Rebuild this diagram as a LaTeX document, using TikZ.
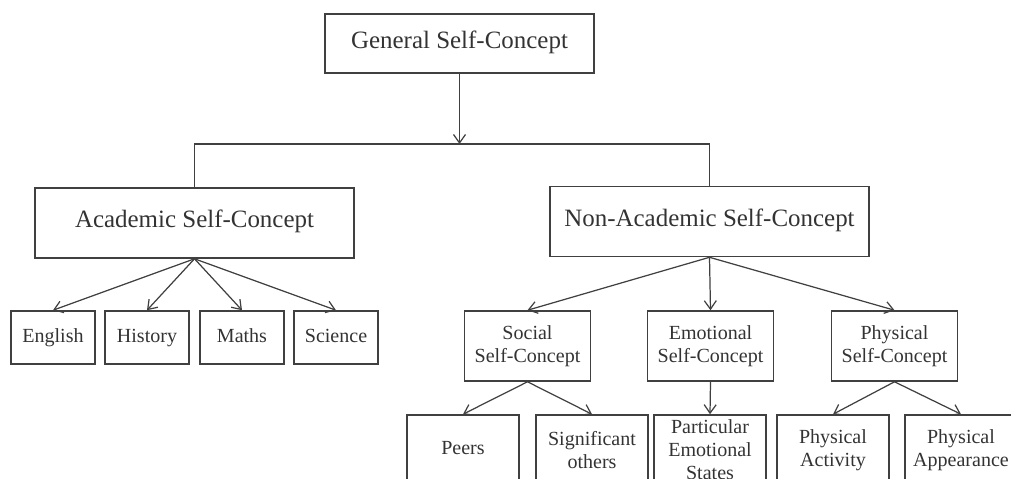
\documentclass[tikz,border=0pt]{standalone}
\usepackage{fontspec}
\setmainfont{Liberation Serif}
\usepackage{tikz}
\usetikzlibrary{arrows.meta,positioning}

\begin{document}
\begin{tikzpicture}[x=0.02cm,y=-0.02cm,
  every node/.style={text=black!80,line width=0.9pt,draw=black!75,inner sep=0pt,align=center},
  oneline/.style={text height=1.5ex,text depth=0.3ex},
  genbox/.style={draw,oneline,minimum width=5.38cm,minimum height=1.18cm,font=\fontsize{14.2}{16}\selectfont},
  bigbox/.style={draw,oneline,minimum width=6.38cm,minimum height=1.4cm,font=\fontsize{14.2}{16}\selectfont},
  subjbox/.style={draw,oneline,minimum width=1.68cm,minimum height=1.06cm,font=\fontsize{11.4}{13.1}\selectfont},
  aspbox/.style={draw,minimum width=2.52cm,minimum height=1.4cm,font=\fontsize{11.4}{13.1}\selectfont},
  leafbox/.style={draw,minimum width=2.24cm,minimum height=1.4cm,font=\fontsize{11.4}{13.1}\selectfont},
  arr/.style={draw=black!75,line width=0.7pt,-{Straight Barb[length=1.7mm,width=2.4mm]}}]
  \clip (0,0) rectangle (1011,478);

  % top level
  \node[genbox] (gen) at (459.5,43.5) {General Self-Concept};
  \node[bigbox] (acad) at (194.5,223) {Academic Self-Concept};
  \node[bigbox] (nonacad) at (709.5,221.5) {Non-Academic Self-Concept};
  \coordinate (split) at (459.5,144);
  \draw[arr] (gen) -- (split);
  \draw[draw=black!75,line width=0.7pt] (acad.north) |- (split) -| (nonacad.north);

  % school subjects
  \node[subjbox] (eng) at (53,337.5) {English};
  \node[subjbox] (hist) at (147,337.5) {History};
  \node[subjbox] (maths) at (242,337.5) {Maths};
  \node[subjbox] (sci) at (336,337.5) {Science};
  \foreach \n in {eng,hist,maths,sci}
    \draw[arr] (acad.south) -- (\n.north);

  % non-academic areas
  \node[aspbox] (soc) at (527.5,346) {Social\\Self-Concept};
  \node[aspbox] (emo) at (710.5,346) {Emotional\\Self-Concept};
  \node[aspbox] (phys) at (894.5,346) {Physical\\Self-Concept};
  \foreach \n in {soc,emo,phys}
    \draw[arr] (nonacad.south) -- (\n.north);

  % bottom row
  \node[leafbox,oneline] (peers) at (463,450) {Peers};
  \node[leafbox] (sigoth) at (592,450) {Significant\\others};
  \node[leafbox] (partemo) at (710,450) {Particular\\Emotional\\States};
  \node[leafbox] (physact) at (833,450) {Physical\\Activity};
  \node[leafbox] (physapp) at (961,450) {Physical\\Appearance};
  \draw[arr] (soc.south) -- (peers.north);
  \draw[arr] (soc.south) -- (sigoth.north);
  \draw[arr] (emo.south) -- (partemo.north);
  \draw[arr] (phys.south) -- (physact.north);
  \draw[arr] (phys.south) -- (physapp.north);

\end{tikzpicture}
\end{document}
